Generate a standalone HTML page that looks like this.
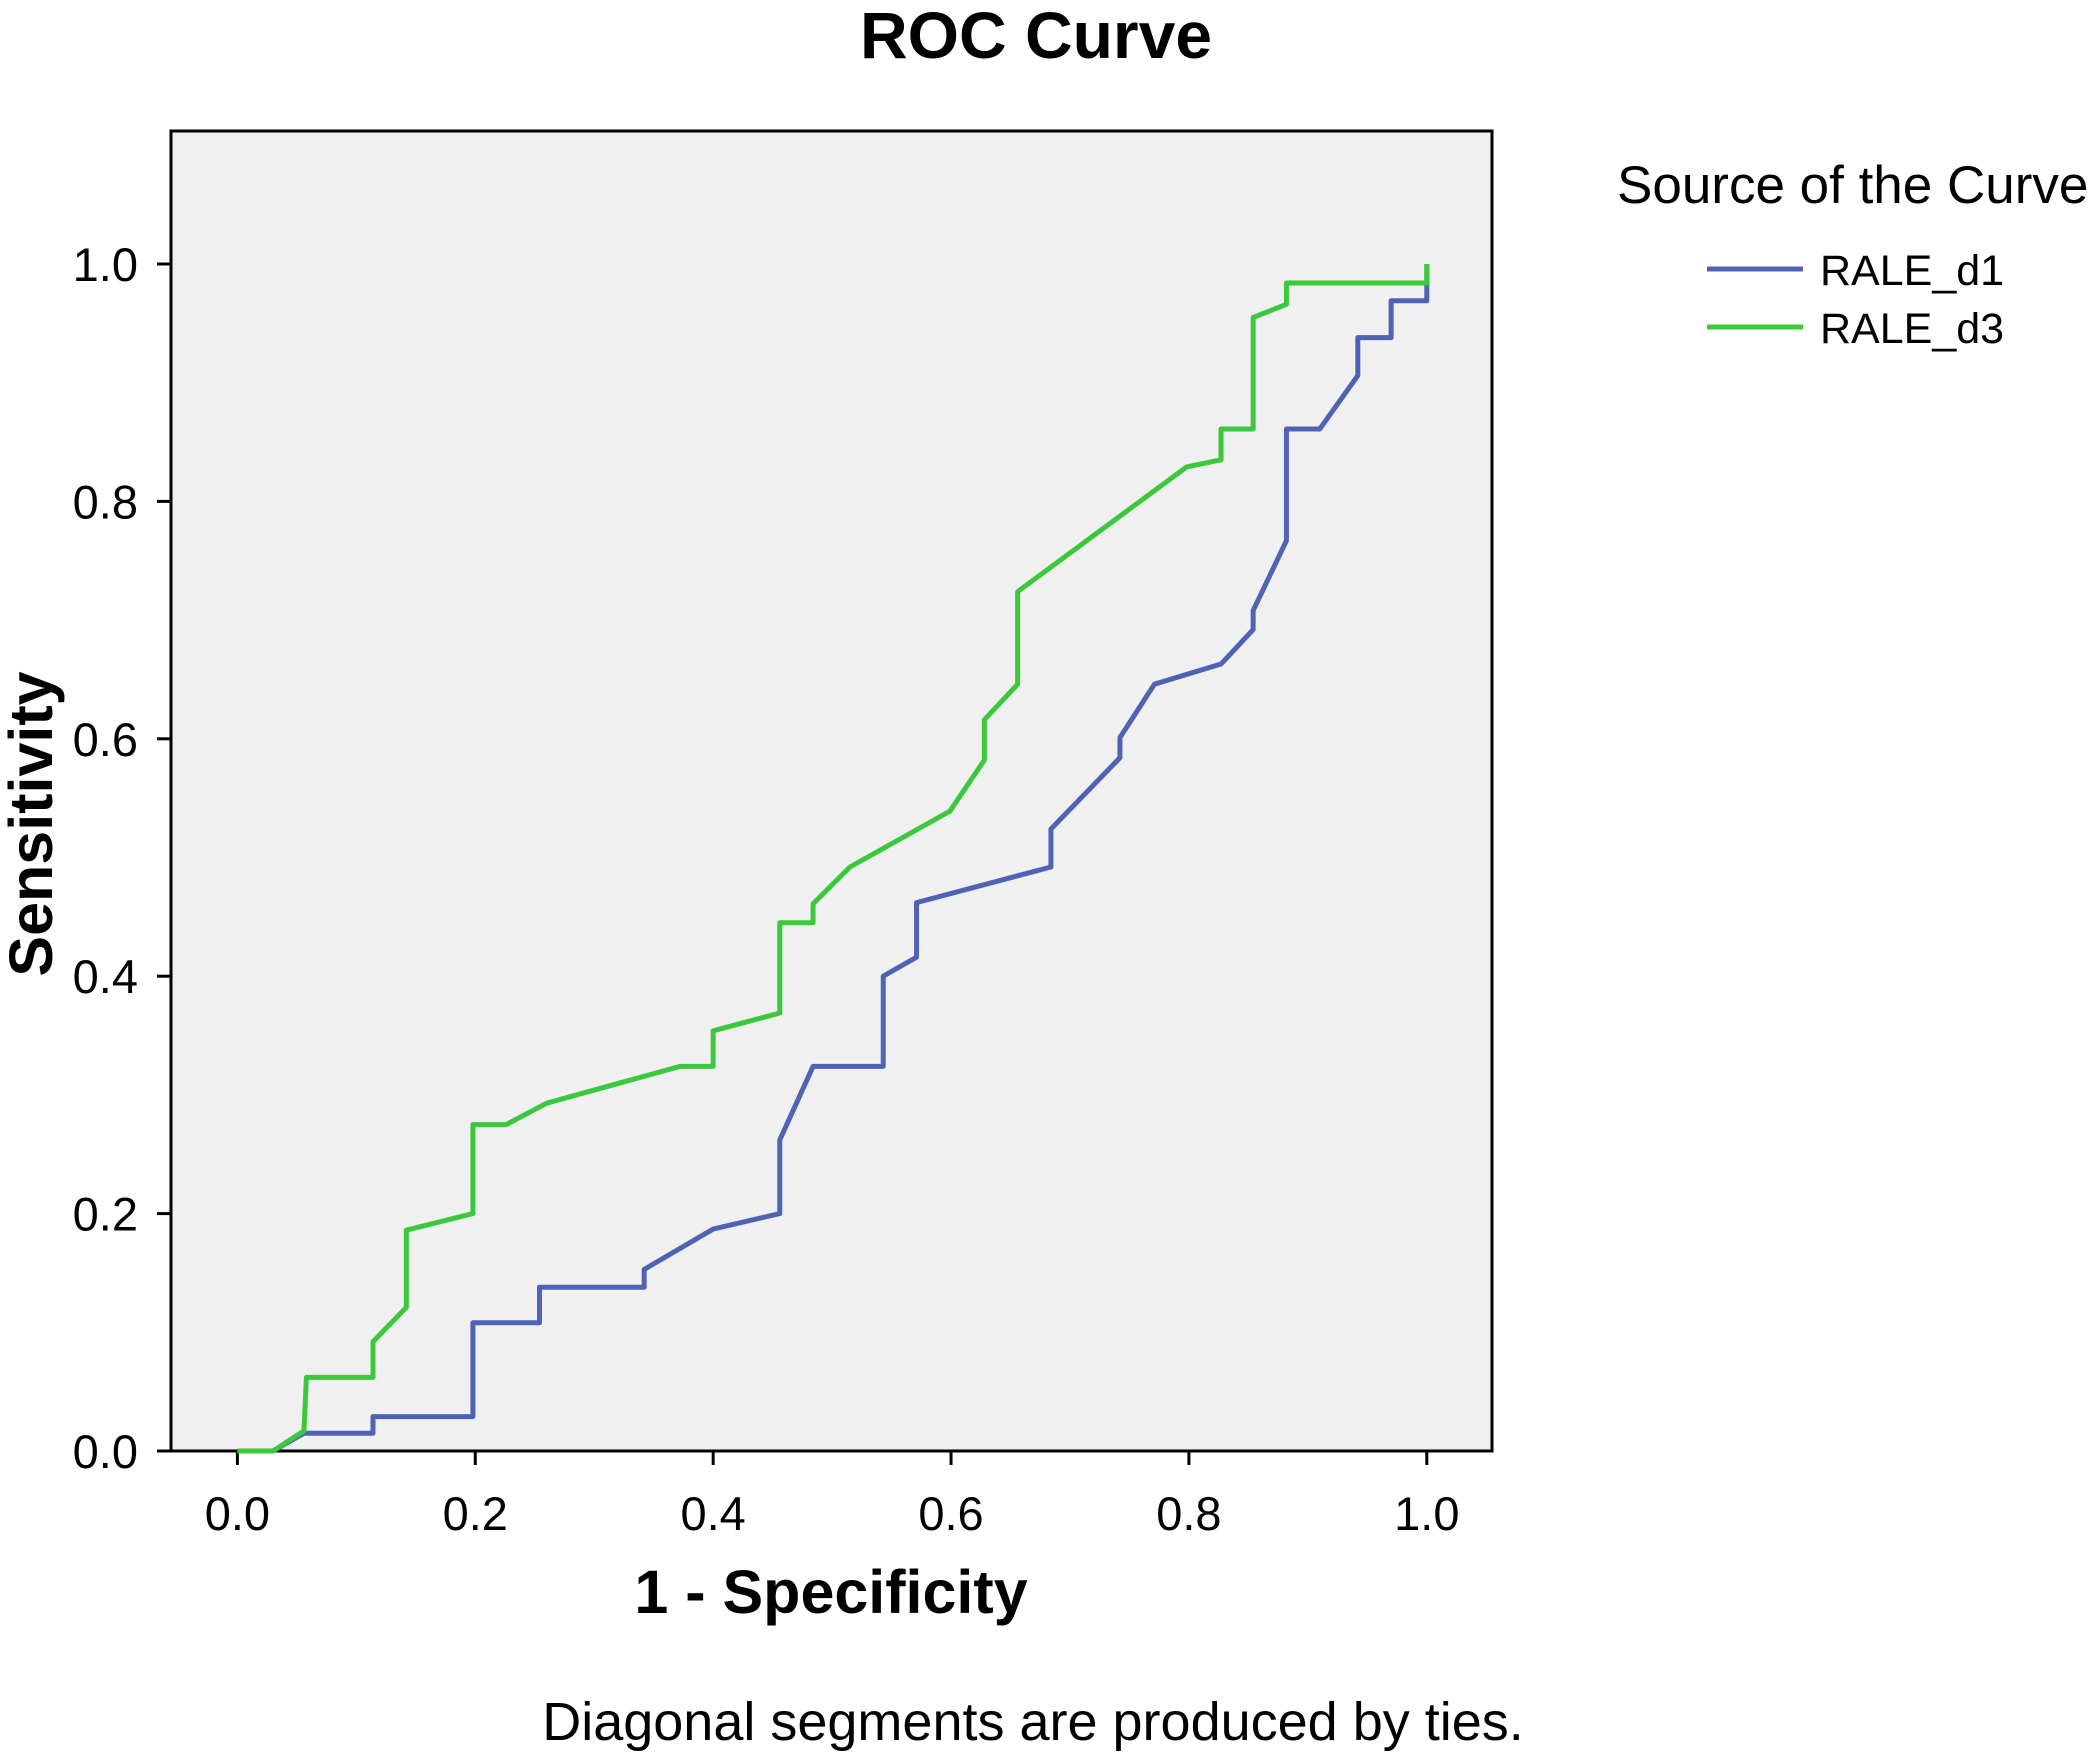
<!DOCTYPE html>
<html><head><meta charset="utf-8"><style>
html,body{margin:0;padding:0;background:#fff;}
svg{display:block;font-family:"Liberation Sans",Arial,sans-serif;}
</style></head><body>
<svg id="chart" width="2091" height="1755" viewBox="0 0 2091 1755">
<text x="1036" y="58" text-anchor="middle" font-size="66" font-weight="bold" fill="#000">ROC Curve</text>
<rect x="171" y="131" width="1321" height="1320" fill="#f0f0f0" stroke="#000" stroke-width="3"/>
<g id="yticks"></g>
<g id="xticks"></g>
<g id="series"></g>
<text x="831" y="1613" text-anchor="middle" font-size="61" font-weight="bold">1 - Specificity</text>
<text transform="translate(36,824) rotate(-90)" text-anchor="middle" dominant-baseline="middle" font-size="61" font-weight="bold">Sensitivity</text>
<g>
<text x="1617" y="203" font-size="53">Source of the Curve</text>
<line x1="1707" y1="269" x2="1803" y2="269" stroke="#4f63b5" stroke-width="5"/>
<text x="1820" y="285" font-size="43">RALE_d1</text>
<line x1="1707" y1="327" x2="1803" y2="327" stroke="#3cc83c" stroke-width="5"/>
<text x="1820" y="343" font-size="43">RALE_d3</text>
</g>
<text x="1033" y="1740" text-anchor="middle" font-size="54">Diagonal segments are produced by ties.</text>
</svg>
<script>
const tickValues = [0, 0.2, 0.4, 0.6, 0.8, 1.0];
const tickLabels = ["0.0","0.2","0.4","0.6","0.8","1.0"];
const d1X = [0,0.03,0.056,0.114,0.114,0.198,0.198,0.254,0.254,0.342,0.342,0.4,0.456,0.456,0.484,0.543,0.543,0.571,0.571,0.684,0.684,0.742,0.742,0.771,0.827,0.854,0.854,0.882,0.882,0.91,0.942,0.942,0.97,0.97,1,1];
const d1Y = [0,0,0.015,0.015,0.029,0.029,0.108,0.108,0.138,0.138,0.153,0.187,0.2,0.262,0.324,0.324,0.4,0.416,0.462,0.492,0.524,0.584,0.601,0.646,0.663,0.692,0.708,0.767,0.861,0.861,0.906,0.938,0.938,0.969,0.969,1];
const d3X = [0,0.03,0.056,0.058,0.114,0.114,0.142,0.142,0.198,0.198,0.226,0.26,0.372,0.4,0.4,0.456,0.456,0.484,0.484,0.515,0.599,0.628,0.628,0.656,0.656,0.798,0.827,0.827,0.854,0.854,0.882,0.882,1,1];
const d3Y = [0,0,0.017,0.062,0.062,0.092,0.121,0.186,0.2,0.275,0.275,0.293,0.324,0.324,0.354,0.369,0.445,0.445,0.461,0.492,0.539,0.582,0.616,0.646,0.724,0.829,0.835,0.861,0.861,0.955,0.966,0.984,0.984,1];

const NS = "http://www.w3.org/2000/svg";
const X0=237.4, X1=1426.8, Y0=1451, Y1=264;
const sx = v => X0 + v*(X1-X0);
const sy = v => Y0 - v*(Y0-Y1);

const yg = document.getElementById('yticks');
const xg = document.getElementById('xticks');
tickValues.forEach((v,i)=>{
  let l = document.createElementNS(NS,'line');
  l.setAttribute('x1',157); l.setAttribute('x2',171);
  l.setAttribute('y1',sy(v)); l.setAttribute('y2',sy(v));
  l.setAttribute('stroke','#000'); l.setAttribute('stroke-width',3);
  
  
  yg.appendChild(l);
  let t = document.createElementNS(NS,'text');
  t.setAttribute('x',138); t.setAttribute('y',sy(v)+17);
  t.setAttribute('text-anchor','end'); t.setAttribute('font-size',47);
  t.textContent = tickLabels[i];
  
  
  yg.appendChild(t);
  let l2 = document.createElementNS(NS,'line');
  l2.setAttribute('x1',sx(v)); l2.setAttribute('x2',sx(v));
  l2.setAttribute('y1',1451); l2.setAttribute('y2',1465);
  l2.setAttribute('stroke','#000'); l2.setAttribute('stroke-width',3);
  
  
  xg.appendChild(l2);
  let t2 = document.createElementNS(NS,'text');
  t2.setAttribute('x',sx(v)); t2.setAttribute('y',1530);
  t2.setAttribute('text-anchor','middle'); t2.setAttribute('font-size',47);
  t2.textContent = tickLabels[i];
  
  
  xg.appendChild(t2);
});

const sg = document.getElementById('series');
function drawLine(xs, ys, color, name){
  const p = document.createElementNS(NS,'polyline');
  p.setAttribute('points', xs.map((x,i)=>sx(x)+','+sy(ys[i])).join(' '));
  p.setAttribute('fill','none'); p.setAttribute('stroke',color);
  p.setAttribute('stroke-width',5); p.setAttribute('stroke-linejoin','round');
  
  
  sg.appendChild(p);
}
drawLine(d1X, d1Y, '#4f63b5', 'line-rale-d1');
drawLine(d3X, d3Y, '#3cc83c', 'line-rale-d3');
</script>
</body></html>
